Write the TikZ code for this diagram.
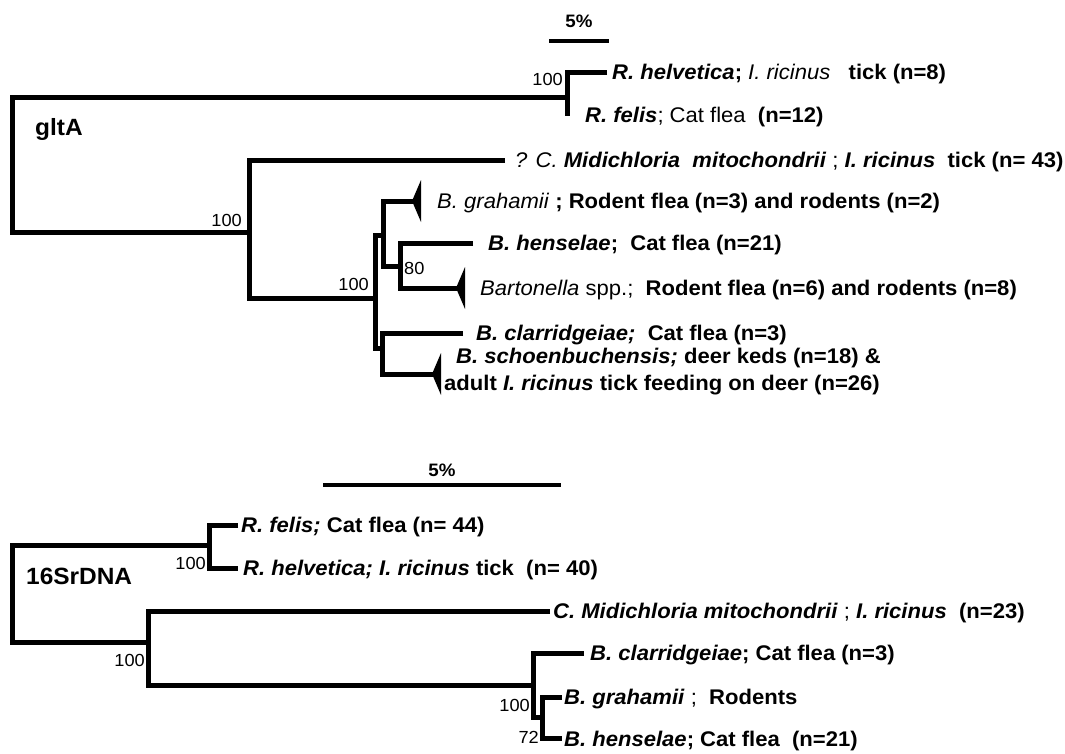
\documentclass[tikz,border=0pt]{standalone}
\usepackage{fontspec}
\setmainfont{Liberation Sans}
\newcommand\bi[1]{\textbf{\textit{#1}}}
\newcommand\rg[1]{\textmd{#1}}
\tikzset{
  branch/.style={line width=5pt, line join=miter, line cap=butt},
  lab/.style={anchor=base west, inner sep=0pt, xscale=1.04, font=\fontsize{21.2}{21.2}\selectfont\bfseries},
  boot/.style={anchor=base east, inner sep=0pt, xscale=1.04, font=\fontsize{17.5}{17.5}\selectfont},
  title/.style={anchor=base west, inner sep=0pt, xscale=1.04, font=\fontsize{23.5}{23.5}\selectfont\bfseries},
  scalelab/.style={anchor=base, inner sep=0pt, xscale=1.04, font=\fontsize{18}{18}\selectfont\bfseries},
  wedge/.pic={\fill (-1,0) -- (8,-21) -- (8,21) -- cycle;}
}
\begin{document}
\begin{tikzpicture}[x=1pt,y=-1pt]
\useasboundingbox (0,0) rectangle (1065,753);

% ---------------- gltA tree ----------------
\coordinate (g-root) at (12,165);
\coordinate (g-R) at (567,97);
\coordinate (g-helv) at (607,72);
\coordinate (g-felis) at (567,116);
\coordinate (g-M) at (249,232);
\coordinate (g-midi) at (505,160);
\coordinate (g-A) at (375,298);
\coordinate (g-B) at (383,235);
\coordinate (g-C) at (382,348);
\coordinate (g-D) at (400,266);
\coordinate (g-graham) at (413,201);
\coordinate (g-hens) at (473,243);
\coordinate (g-bart) at (457,288);
\coordinate (g-clarr) at (463,333);
\coordinate (g-schoen) at (433,374);

\draw[branch] (g-R) -| (g-root) |- (g-M);
\draw[branch] (g-helv) -| (g-R) -- (g-felis);
\draw[branch] (g-midi) -| (g-M) |- (g-A);
\draw[branch] (g-B) -| (g-A) |- (g-C);
\draw[branch] (g-graham) -| (g-B) |- (g-D);
\draw[branch] (g-hens) -| (g-D) |- (g-bart);
\draw[branch] (g-clarr) -| (g-C) |- (g-schoen);
\pic at (g-graham) {wedge};
\pic at (g-bart) {wedge};
\pic at (g-schoen) {wedge};

% scale bar
\coordinate (g-sb1) at (549,41);
\coordinate (g-sb2) at (609,41);
\draw[line width=4.5pt] (g-sb1) -- (g-sb2);
\node[scalelab] (g-sblab) at (579,27) {5\%};

\node[title] (g-title) at (35,135) {gltA};
\node[boot] (g-bR) at (563,85) {100};
\node[boot] (g-bM) at (242,226) {100};
\node[boot] (g-bA) at (369,290) {100};
\node[boot,anchor=base west] (g-bD) at (404,274) {80};

\node[lab] (g-lhelv) at (612,79) {\bi{R. helvetica}; \rg{\textit{I. ricinus}}\ \ \ tick (n=8)};
\node[lab] (g-lfelis) at (585,122) {\bi{R. felis}\rg{; Cat flea}\ \ (n=12)};
\node[lab] (g-lmidi) at (515,167) {\rg{\textit{? C.}} \bi{Midichloria\ \ mitochondrii}\rg{ ;} \bi{I. ricinus}\ \ tick (n= 43)};
\node[lab] (g-lgraham) at (437,208) {\rg{\textit{B. grahamii}} ; Rodent flea (n=3) and rodents (n=2)};
\node[lab] (g-lhens) at (488,250) {\bi{B. henselae};\ \ Cat flea (n=21)};
\node[lab] (g-lbart) at (480,295) {\rg{\textit{Bartonella} spp.;}\ \ Rodent flea (n=6) and rodents (n=8)};
\node[lab] (g-lclarr) at (476,340) {\bi{B. clarridgeiae;}\ \ Cat flea (n=3)};
\node[lab] (g-lschoen) at (456,363) {\bi{B. schoenbuchensis;} deer keds (n=18) \&};
\node[lab] (g-ladult) at (444,390) {adult \textit{I. ricinus} tick feeding on deer (n=26)};

% ---------------- 16S tree ----------------
\coordinate (s-root) at (12,593);
\coordinate (s-R) at (209,545);
\coordinate (s-felis) at (238,525);
\coordinate (s-helv) at (238,568);
\coordinate (s-M) at (148,642);
\coordinate (s-midi) at (550,611);
\coordinate (s-A) at (533,685);
\coordinate (s-clarr) at (584,653);
\coordinate (s-B) at (542,717);
\coordinate (s-graham) at (562,697);
\coordinate (s-hens) at (562,738);

\draw[branch] (s-R) -| (s-root) |- (s-M);
\draw[branch] (s-felis) -| (s-R) |- (s-helv);
\draw[branch] (s-midi) -| (s-M) |- (s-A);
\draw[branch] (s-clarr) -| (s-A) |- (s-B);
\draw[branch] (s-graham) -| (s-B) |- (s-hens);

\coordinate (s-sb1) at (323,485);
\coordinate (s-sb2) at (561,485);
\draw[line width=4.5pt] (s-sb1) -- (s-sb2);
\node[scalelab] (s-sblab) at (442,476) {5\%};

\node[title] (s-title) at (26,584) {16SrDNA};
\node[boot] (s-bR) at (206,569) {100};
\node[boot] (s-bM) at (145,666) {100};
\node[boot] (s-bA) at (530,711) {100};
\node[boot] (s-bB) at (539,743) {72};

\node[lab] (s-lfelis) at (241,532) {\bi{R. felis;} Cat flea (n= 44)};
\node[lab] (s-lhelv) at (243,575) {\bi{R. helvetica; I. ricinus} tick\ \ (n= 40)};
\node[lab] (s-lmidi) at (553,618) {\bi{C. Midichloria mitochondrii}\rg{ ;} \bi{I. ricinus}\ \ (n=23)};
\node[lab] (s-lclarr) at (590,660) {\bi{B. clarridgeiae}; Cat flea (n=3)};
\node[lab] (s-lgraham) at (564,704) {\bi{B. grahamii}\rg{ ;}\ \ Rodents};
\node[lab] (s-lhens) at (564,746) {\bi{B. henselae}; Cat flea\ \ (n=21)};
\end{tikzpicture}
\end{document}
